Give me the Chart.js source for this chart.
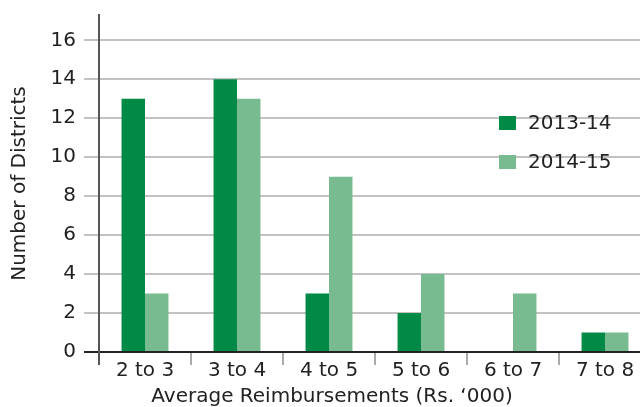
<!DOCTYPE html>
<html>
<head>
<meta charset="utf-8">
<script src="https://cdn.jsdelivr.net/npm/chart.js@4.4.0/dist/chart.umd.min.js"></script>
<style>
  html, body { margin: 0; padding: 0; overflow: hidden; background: #fff; }
  #wrap { width: 651px; height: 407px; }
</style>
</head>
<body>
<div id="wrap"><canvas id="chart" width="651" height="407"></canvas></div>
<script>
// data
const categories = ['2 to 3', '3 to 4', '4 to 5', '5 to 6', '6 to 7', '7 to 8'];
const seriesNames = ['2013-14', '2014-15'];
const values2013 = [13, 14, 3, 2, 0, 1];
const values2014 = [3, 13, 9, 4, 3, 1];
const yTicks = [0, 2, 4, 6, 8, 10, 12, 14, 16];
const xTitle = 'Average Reimbursements (Rs. \u2018000)';
const yTitle = 'Number of Districts';

const darkGreen = '#008a45';
const lightGreen = '#78bb90';
const textColor = '#222';
const fontFamily = '"DejaVu Sans", sans-serif';
const fontSize = 20;

// draws the legend inside the plot and the x title (centred under the picture, not the plot)
const extras = {
    id: 'extras',
    afterDraw(chart) {
        const ctx = chart.ctx;
        ctx.save();
        ctx.font = fontSize + 'px ' + fontFamily;
        ctx.fillStyle = textColor;
        ctx.textBaseline = 'middle';
        ctx.textAlign = 'center';
        ctx.fillText(xTitle, 332, 397);

        ctx.textAlign = 'left';
        chart.data.datasets.forEach(function (ds, i) {
            const y = 123 + i * 39;
            ctx.fillStyle = ds.backgroundColor;
            ctx.fillRect(499, y - 7, 17, 14);
            ctx.fillStyle = textColor;
            ctx.fillText(ds.label, 528, y + 1);
        });
        ctx.restore();
    }
};

new Chart(document.getElementById('chart'), {
    type: 'bar',
    data: {
        labels: categories,
        datasets: [
            { label: seriesNames[0], data: values2013, backgroundColor: darkGreen },
            { label: seriesNames[1], data: values2014, backgroundColor: lightGreen }
        ]
    },
    options: {
        responsive: false,
        animation: false,
        devicePixelRatio: 1,
        layout: { autoPadding: false, padding: { top: 15, right: 0, left: 0, bottom: 0 } },
        datasets: {
            bar: { categoryPercentage: 0.51, barPercentage: 1.0 }
        },
        plugins: {
            legend: { display: false },
            tooltip: { enabled: false }
        },
        scales: {
            x: {
                offset: true,
                grid: {
                    offset: true,
                    drawOnChartArea: false,
                    tickLength: 13,
                    lineWidth: 2,
                    color: function (c) { return c.index === 0 ? '#555' : '#aaa'; }
                },
                border: { display: true, color: '#222', width: 2 },
                ticks: {
                    color: textColor,
                    padding: -6,
                    font: { family: fontFamily, size: fontSize },
                    maxRotation: 0
                },
                afterFit: function (scale) { scale.height = 55; }
            },
            y: {
                min: 0,
                max: 17.3,
                grid: {
                    tickLength: 15,
                    lineWidth: 2,
                    color: function (c) { return c.tick && c.tick.value === 0 ? '#222' : '#c2c2c2'; }
                },
                border: { display: true, color: '#555', width: 2 },
                ticks: {
                    color: textColor,
                    padding: 8,
                    font: { family: fontFamily, size: fontSize }
                },
                afterBuildTicks: function (axis) {
                    axis.ticks = yTicks.map(function (v) { return { value: v }; });
                },
                title: {
                    display: true,
                    text: yTitle,
                    color: textColor,
                    padding: { top: 8, bottom: 0 },
                    font: { family: fontFamily, size: fontSize }
                },
                afterFit: function (scale) {
                    scale.width = 99;
                    // the top tick is not at the edge, so no label padding is needed
                    scale.paddingTop = 0;
                    scale.paddingBottom = 0;
                }
            }
        }
    },
    plugins: [extras]
});
</script>
</body>
</html>
